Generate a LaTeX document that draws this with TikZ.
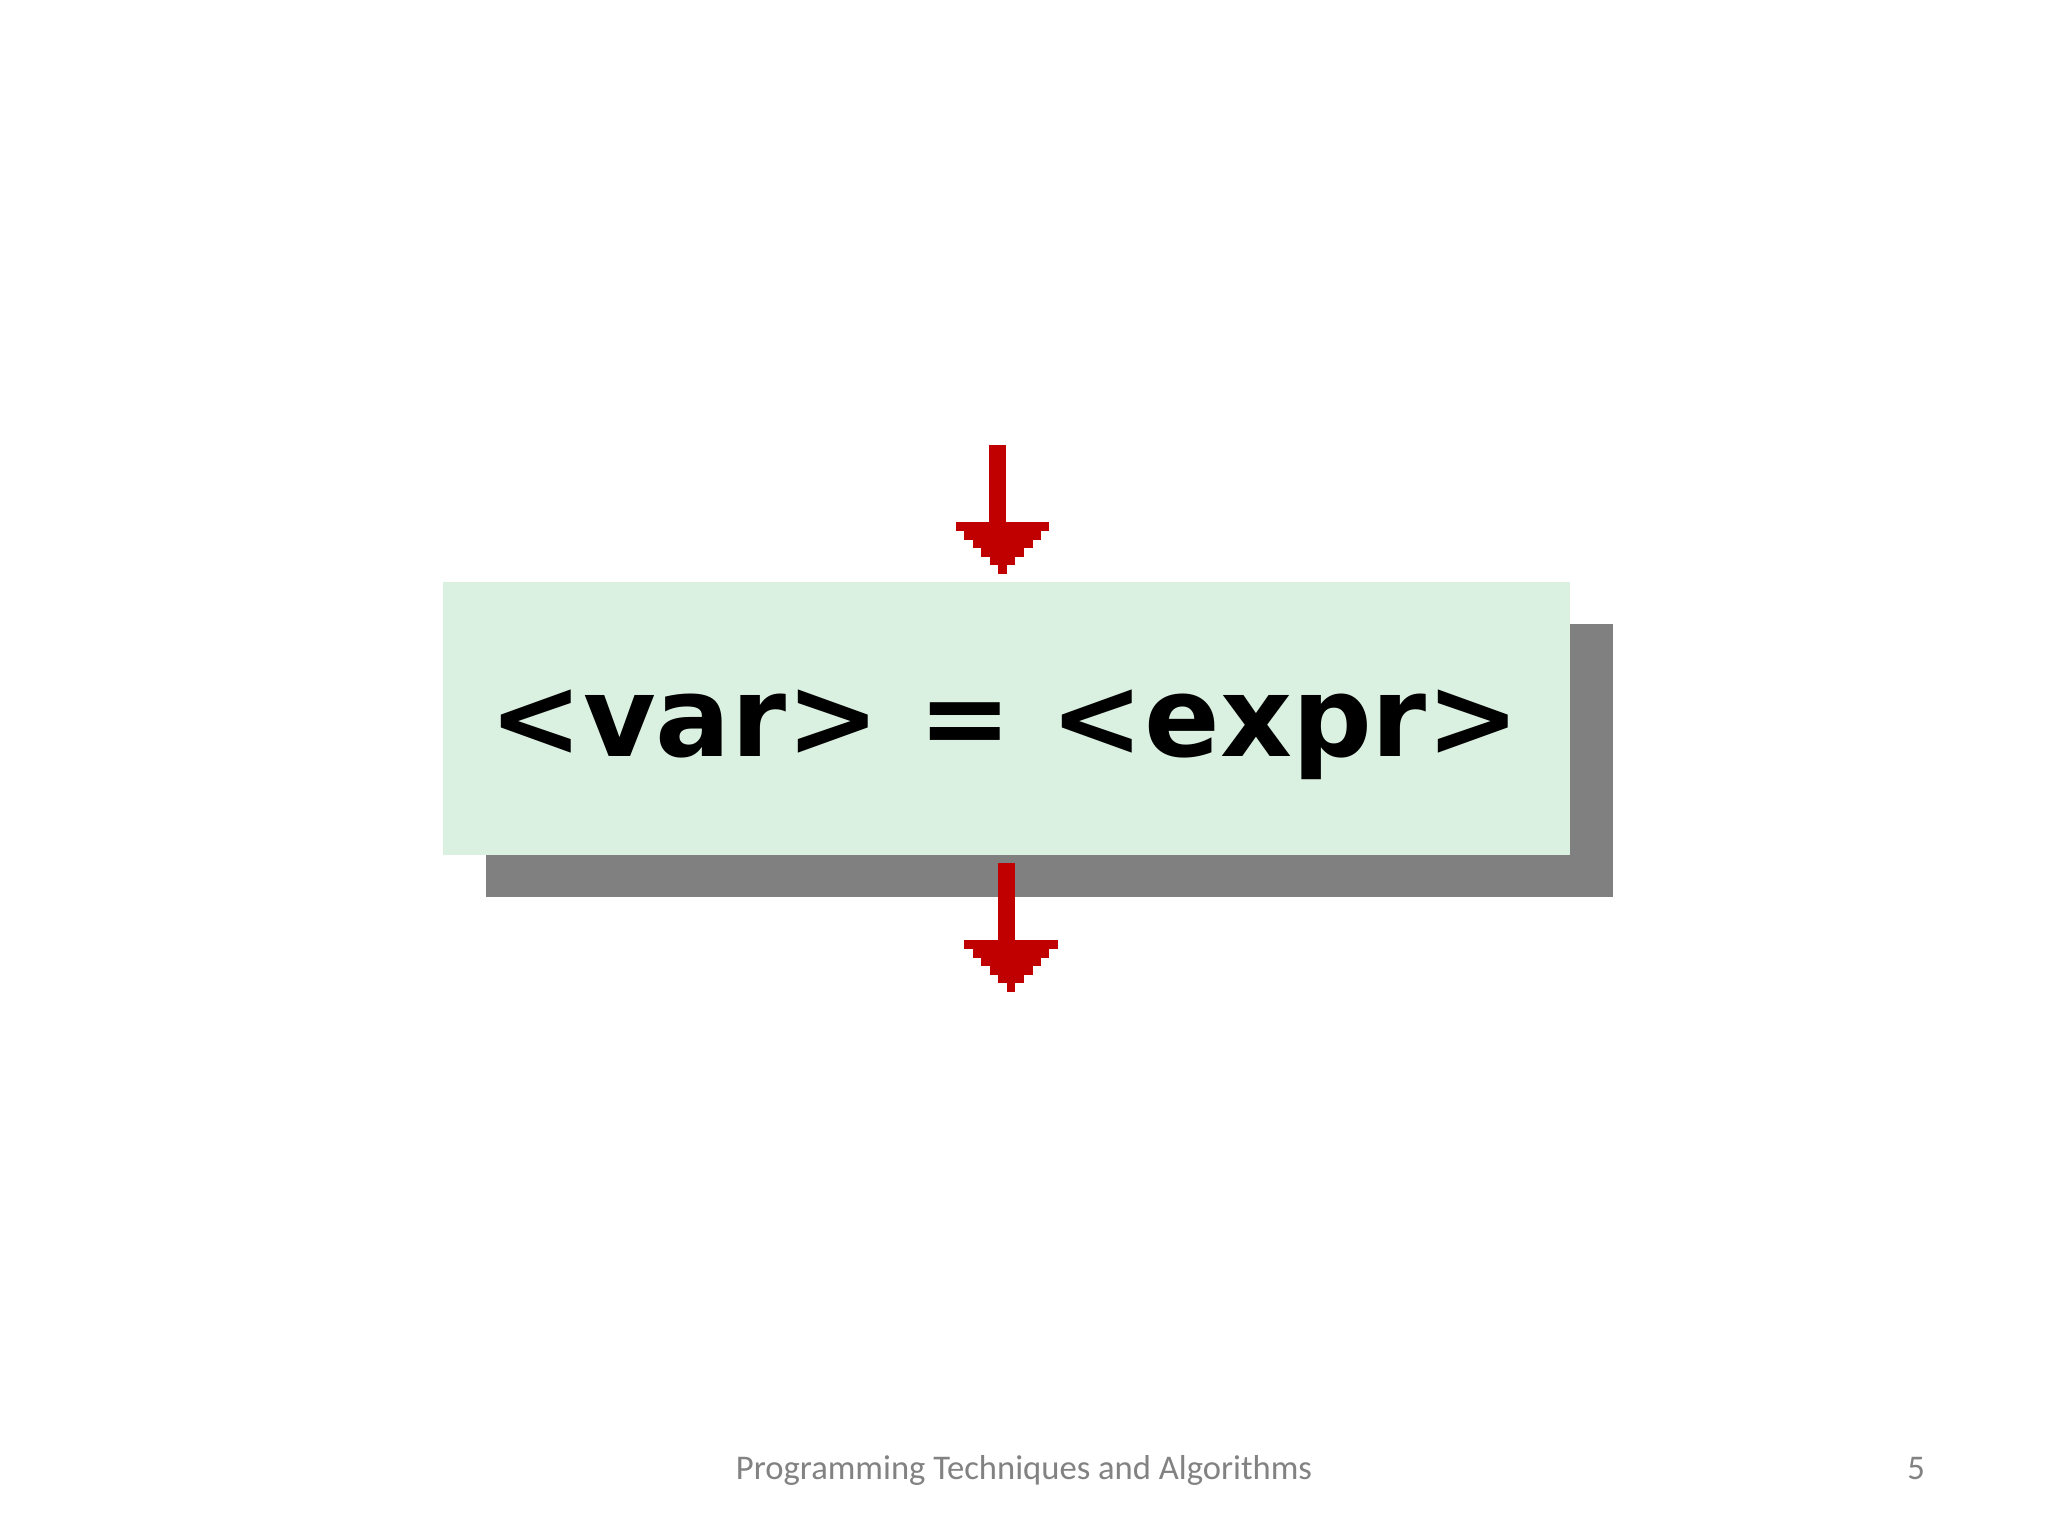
\documentclass[tikz,border=0pt]{standalone}
\usepackage{fontspec}
\setmainfont{Carlito}
\newfontfamily\boxfont{DejaVu Sans}
\usetikzlibrary{calc}
\definecolor{boxgreen}{RGB}{218,240,224}
\definecolor{shadowgray}{RGB}{128,128,128}
\definecolor{arrowred}{RGB}{192,0,0}
\definecolor{footgray}{RGB}{130,130,130}
\begin{document}
\begin{tikzpicture}[x=0.5pt,y=-0.5pt,
  shadowbox/.style={fill=shadowgray,draw=none,minimum width=563.5pt,minimum height=136.5pt,inner sep=0pt,outer sep=0pt},
  stmtbox/.style={fill=boxgreen,draw=none,minimum width=563.5pt,minimum height=136.7pt,inner sep=0pt,outer sep=0pt},
  stmttext/.style={font=\boxfont\bfseries\fontsize{55.8}{60}\selectfont,text=black,inner sep=0pt},
  shaft/.style={draw=arrowred,line width=8.5pt,line cap=butt},
  headstep/.style={fill=arrowred},
  footer/.style={font=\fontsize{17.3}{20}\selectfont,text=footgray,inner sep=0pt}]
\useasboundingbox (0,0) rectangle (2048,1536);
\fill[white] (0,0) rectangle (2048,1536);
% box and shadow
\node[shadowbox] (shadow) at (1049.5,760.5) {};
\node[stmtbox] (stmt) at (1006.5,718.3) {};
\node[stmttext,anchor=base] (label) at (1005,756) {<var> = <expr>};
% incoming arrow
\coordinate (inTop) at (997.7,445);
\coordinate (headTopA) at (1002.5,522);
\draw[shaft] (inTop) -- ($(inTop |- headTopA)+(0,8)$);
\foreach \i/\hw in {0/46.8,1/38.3,2/30,3/21.5,4/12.8,5/4.2}
  \fill[headstep] ($(headTopA)+(-\hw,{\i*8.6})$) rectangle ($(headTopA)+(\hw,{\i*8.6+8.9})$);
% outgoing arrow
\coordinate (outTop) at (1006.7,863);
\coordinate (headTopB) at (1011,940);
\draw[shaft] (outTop) -- ($(outTop |- headTopB)+(0,8)$);
\foreach \i/\hw in {0/46.8,1/38.3,2/30,3/21.5,4/12.8,5/4.2}
  \fill[headstep] ($(headTopB)+(-\hw,{\i*8.6})$) rectangle ($(headTopB)+(\hw,{\i*8.6+8.9})$);
% footer
\node[footer,anchor=base] (foot) at (1024,1479) {Programming Techniques and Algorithms};
\node[footer,anchor=base] (page) at (1916,1479) {5};
\end{tikzpicture}
\end{document}
